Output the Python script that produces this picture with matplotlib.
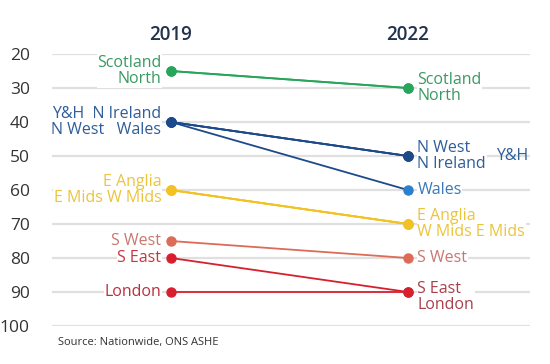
import matplotlib.pyplot as plt

# regional ranks (lower = more affordable position)
regions = ['Scotland', 'North', 'Y&H', 'N Ireland', 'N West', 'Wales',
           'E Anglia', 'E Mids', 'W Mids', 'S West', 'S East', 'London']
rank_2019 = [25, 25, 40, 40, 40, 40, 60, 60, 60, 75, 80, 90]
rank_2022 = [30, 30, 50, 50, 50, 60, 70, 70, 70, 80, 90, 90]
years = ['2019', '2022']
yticks = [20, 30, 40, 50, 60, 70, 80, 90, 100]

green = '#27a55a'
navy = '#1d4a8a'
blue = '#2a7fcf'
yellow = '#f2c225'
salmon = '#dc6b58'
red = '#d81f2e'
region_colors = [green, green, navy, navy, navy, navy,
                 yellow, yellow, yellow, salmon, red, red]
end_colors = [green, green, navy, navy, navy, blue,
              yellow, yellow, yellow, salmon, red, red]

# text blocks next to the dots
left_text = ['Scotland\nNorth', 'Y&H  N Ireland\nN West   Wales', 'E Anglia\nE Mids W Mids',
             'S West', 'S East', 'London']
left_val = [25, 40, 60, 75, 80, 90]
left_col = ['#3a9a63', '#2f5d99', '#ecc43a', '#c9776f', '#c8353f', '#b8303f']
right_text = ['Scotland\nNorth', 'N West\nN Ireland', 'Wales', 'E Anglia\nW Mids E Mids',
              'S West', 'S East\nLondon']
right_val = [30, 50, 60, 70, 80, 90]
right_col = ['#3a9a63', '#2f5d99', '#3a78b8', '#ecc43a', '#c9776f', '#a8404c']

plt.rcParams['font.family'] = ['Open Sans', 'DejaVu Sans']

fig = plt.figure(figsize=(5.5, 3.64), dpi=100)
ax = fig.add_axes([0.0945, 0.1044, 0.8691, 0.7472])

for i in range(len(regions)):
    ax.plot([0, 1], [rank_2019[i], rank_2022[i]], color=region_colors[i], lw=1.3, zorder=3)
    ax.plot(0, rank_2019[i], 'o', color=region_colors[i], ms=6.5, zorder=4)
    ax.plot(1, rank_2022[i], 'o', color=end_colors[i], ms=6.5, zorder=4)

for t, v, c in zip(left_text, left_val, left_col):
    ax.text(-0.04, v, t, ha='right', va='center', color=c, fontsize=11.5,
            linespacing=1.05, zorder=5,
            bbox=dict(facecolor='white', edgecolor='none', pad=0.3))
for t, v, c in zip(right_text, right_val, right_col):
    if t == 'S East\nLondon':
        v = 91.5
    ax.text(1.04, v, t, ha='left', va='center', color=c, fontsize=11.5,
            linespacing=1.05, zorder=5,
            bbox=dict(facecolor='white', edgecolor='none', pad=0.3))
ax.text(1.37, 50, 'Y&H', ha='left', va='center', color='#2f5d99', fontsize=11.5, zorder=5)

ax.set_ylim(100, 20)
ax.set_xlim(-0.502, 1.515)
ax.set_yticks(yticks)
ax.set_xticks([])
ax.tick_params(axis='y', length=0, labelsize=12.5, labelcolor='#333333', pad=16)
for lbl in ax.get_yticklabels():
    lbl.set_horizontalalignment('right')
ax.grid(axis='y', color='#e0e0e0', lw=1.6, zorder=0)
for s in ax.spines.values():
    s.set_visible(False)

for x, yr in zip([0, 1], years):
    ax.text(x, 14.5, yr, ha='center', va='center', fontsize=13.5,
            fontweight='semibold', color='#22334d')

fig.text(0.105, 0.06, 'Source: Nationwide, ONS ASHE', fontsize=8, color='#333333',
         ha='left', va='center')

fig.savefig('out.png', dpi=100)
